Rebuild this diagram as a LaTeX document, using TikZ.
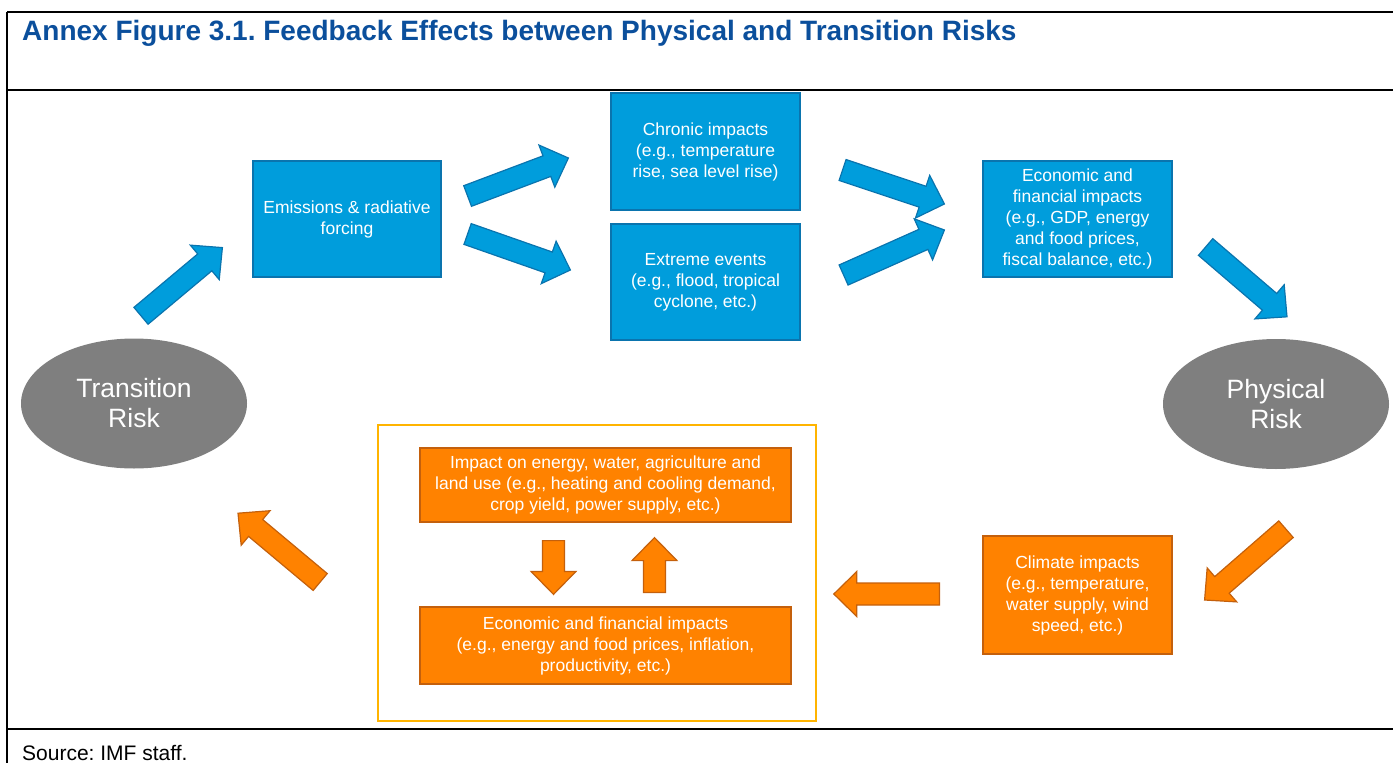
\documentclass[tikz,border=0pt]{standalone}
\usepackage{fontspec}
\setmainfont{Liberation Sans}
\usetikzlibrary{shapes.geometric,calc}
\frenchspacing

\definecolor{titleblue}{HTML}{0B4F9C}
\definecolor{bluefill}{HTML}{009DDC}
\definecolor{blueedge}{HTML}{0A74AE}
\definecolor{orangefill}{HTML}{FF8200}
\definecolor{orangeedge}{HTML}{C4600C}
\definecolor{framegold}{HTML}{FFB400}
\definecolor{riskgray}{HTML}{7F7F7F}

\tikzset{
  bluebox/.style={draw=blueedge, fill=bluefill, line width=1.2pt, text=white,
    align=center, inner sep=0pt, minimum width=189pt, minimum height=117pt,
    font=\fontsize{17.5}{21}\selectfont},
  orangebox/.style={bluebox, draw=orangeedge, fill=orangefill},
  riskblob/.style={ellipse, fill=riskgray, text=white, align=center, inner sep=0pt,
    minimum width=226pt, minimum height=130pt, font=\fontsize{26.5}{30}\selectfont},
  bluearrow/.style={fill=bluefill, draw=blueedge, line width=1.2pt},
  orangearrow/.style={fill=orangefill, draw=orangeedge, line width=1.2pt},
  rule/.style={line width=2pt, black}
}

% block arrow from tail #2 to tip #3
\newcommand{\fatarrow}[3]{%
  \coordinate (fab) at ($(#3)!23pt!(#2)$);
  \filldraw[#1] ($(#2)!11pt!90:(#3)$) -- ($(fab)!11pt!90:(#3)$) -- ($(fab)!22.5pt!90:(#3)$)
    -- (#3) -- ($(fab)!22.5pt!-90:(#3)$) -- ($(fab)!11pt!-90:(#3)$) -- ($(#2)!11pt!-90:(#3)$) -- cycle;
}

\begin{document}
\begin{tikzpicture}[x=1pt, y=-1pt]
    \useasboundingbox (0,0) rectangle (1393,763);

    % Frame and title
    \draw[rule] (7,12) -- (1393,12);
    \draw[rule] (7,90) -- (1393,90);
    \draw[rule] (7,729) -- (1393,729);
    \draw[rule] (7,12) -- (7,763);
    \node[anchor=base west, inner sep=0pt, text=titleblue, font=\bfseries\fontsize{28}{32}\selectfont] (title) at (22,40)
        {Annex Figure 3.1. Feedback Effects between Physical and Transition Risks};
    \node[anchor=base west, inner sep=0pt, font=\fontsize{21}{25}\selectfont] (source) at (22,760) {Source: IMF staff.};

    % Risks
    \node[riskblob] (trans) at (134,403.5) {Transition\\Risk};
    \node[riskblob] (phys) at (1276,404) {Physical\\Risk};

    % Physical risk chain
    \node[bluebox, minimum width=188pt, minimum height=116pt] (emis) at (347,219) {Emissions \& radiative\\forcing};
    \node[bluebox] (chron) at (705.5,151.5) {Chronic impacts\\(e.g., temperature\\rise, sea level rise)};
    \node[bluebox, minimum height=116pt] (extr) at (705.5,282) {Extreme events\\(e.g., flood, tropical\\cyclone, etc.)};
    \node[bluebox, minimum height=116pt] (econ) at (1077.5,219)
        {Economic and\\financial impacts\\(e.g., GDP, energy\\and food prices,\\fiscal balance, etc.)};

    % Transition risk chain
    \node[orangebox, minimum height=118pt] (clim) at (1077.5,595)
        {Climate impacts\\(e.g., temperature,\\water supply, wind\\speed, etc.)};
    \node[draw=framegold, line width=1.6pt, minimum width=438pt, minimum height=296pt] (frame) at (597,573) {};
    \node[orangebox, minimum width=371pt, minimum height=74pt] (impact) at (605.5,485)
        {Impact on energy, water, agriculture and\\land use (e.g., heating and cooling demand,\\crop yield, power supply, etc.)};
    \node[orangebox, minimum width=371pt, minimum height=77pt] (fin) at (605.5,645.5)
        {Economic and financial impacts\\(e.g., energy and food prices, inflation,\\productivity, etc.)};

    % Arrow ends
    \coordinate (a1) at ($(trans.north)+(7,-22.5)$);
    \coordinate (b1) at ($(emis.south west)+(-30,-30)$);
    \coordinate (a2) at ($(emis.east)+(26,-23)$);
    \coordinate (b2) at ($(chron.west)+(-42,6.5)$);
    \coordinate (a3) at ($(emis.east)+(26,15)$);
    \coordinate (b3) at ($(extr.west)+(-40,-12)$);
    \coordinate (a4) at ($(chron.east)+(42,18.5)$);
    \coordinate (b4) at ($(econ.west)+(-38,-15)$);
    \coordinate (a5) at ($(extr.east)+(43,-7)$);
    \coordinate (b5) at ($(econ.west)+(-38,11)$);
    \coordinate (a6) at ($(econ.east)+(33,28)$);
    \coordinate (b6) at ($(phys.north)+(11,-22)$);
    \coordinate (a7) at ($(phys.south)+(10,60)$);
    \coordinate (b7) at ($(clim.east)+(32,5)$);
    \coordinate (a8) at ($(clim.west)+(-43,-1)$);
    \coordinate (b8) at ($(frame.east)+(17,21)$);
    \coordinate (a9) at ($(frame.west)+(-57,9)$);
    \coordinate (b9) at ($(trans.south)+(104,44.5)$);
    \coordinate (a10) at ($(impact.south)+(-52,18)$);
    \coordinate (b10) at ($(fin.north)+(-52,-12)$);
    \coordinate (a11) at ($(fin.north)+(49,-14)$);
    \coordinate (b11) at ($(impact.south)+(49,15)$);

    % Arrows
    \foreach \tl/\hd in {a1/b1, a2/b2, a3/b3, a4/b4, a5/b5, a6/b6} {
        \fatarrow{bluearrow}{\tl}{\hd}
    }
    \foreach \tl/\hd in {a7/b7, a8/b8, a9/b9, a10/b10, a11/b11} {
        \fatarrow{orangearrow}{\tl}{\hd}
    }
\end{tikzpicture}
\end{document}
